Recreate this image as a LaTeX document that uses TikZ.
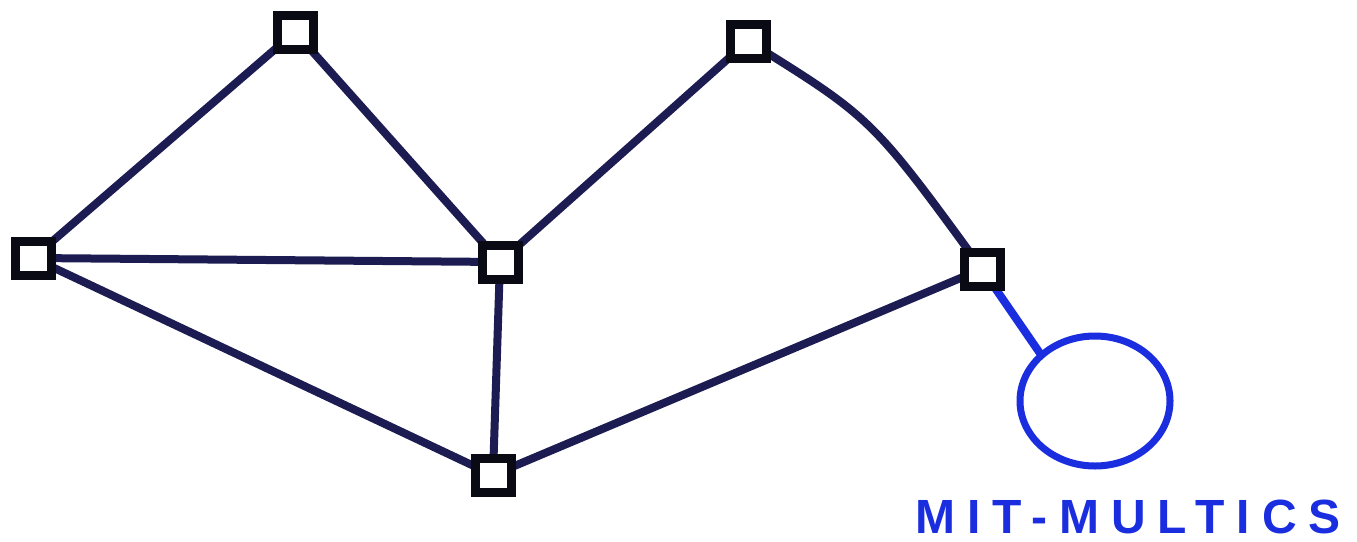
\documentclass[tikz,border=0pt]{standalone}
\usepackage{fontspec}
\setmainfont{Liberation Sans}
\newfontfamily\labelfont[LetterSpace=25]{Liberation Sans}
\definecolor{navy}{HTML}{1C1C52}
\definecolor{boxblack}{HTML}{0A0A14}
\definecolor{penblue}{HTML}{1A2EE0}
\tikzset{
  x=1pt, y=-1pt,
  site/.style={draw=boxblack, line width=9pt, minimum width=36pt, minimum height=34pt, inner sep=0pt, fill=white},
  link/.style={draw=navy, line width=8pt, line cap=round},
  host/.style={draw=penblue, line width=7pt, ellipse, minimum width=150pt, minimum height=130pt, inner sep=0pt},
}
\usetikzlibrary{shapes.geometric}
\begin{document}
\begin{tikzpicture}
\useasboundingbox (0,0) rectangle (1357,541);
\fill[white] (0,0) rectangle (1357,541);
\coordinate (pa) at (295,32);
\coordinate (pb) at (748,41);
\coordinate (pc) at (33,258);
\coordinate (pd) at (500,262);
\coordinate (pe) at (982,269);
\coordinate (pf) at (493,475);
\node[host] (h) at (1095,401) {};
\draw[link] (pa) -- (pc);
\draw[link] (pa) -- (pd);
\draw[link] (pc) -- (pd);
\draw[link] (pc) -- (pf);
\draw[link] (pd) -- (pf);
\draw[link] (pd) -- (pb);
\draw[link] (pb) .. controls (872,118) .. (pe);
\draw[link] (pe) -- (pf);
\draw[link, draw=penblue] (pe) -- (h.north west);
\node[site] (a) at (pa) {};
\node[site] (b) at (pb) {};
\node[site] (c) at (pc) {};
\node[site] (d) at (pd) {};
\node[site] (e) at (pe) {};
\node[site] (f) at (pf) {};
\node[text=penblue, font=\labelfont\bfseries\fontsize{48}{52}\selectfont, anchor=base west, inner sep=0pt] (lbl) at (915,533) {MIT-MULTICS};
\end{tikzpicture}
\end{document}
